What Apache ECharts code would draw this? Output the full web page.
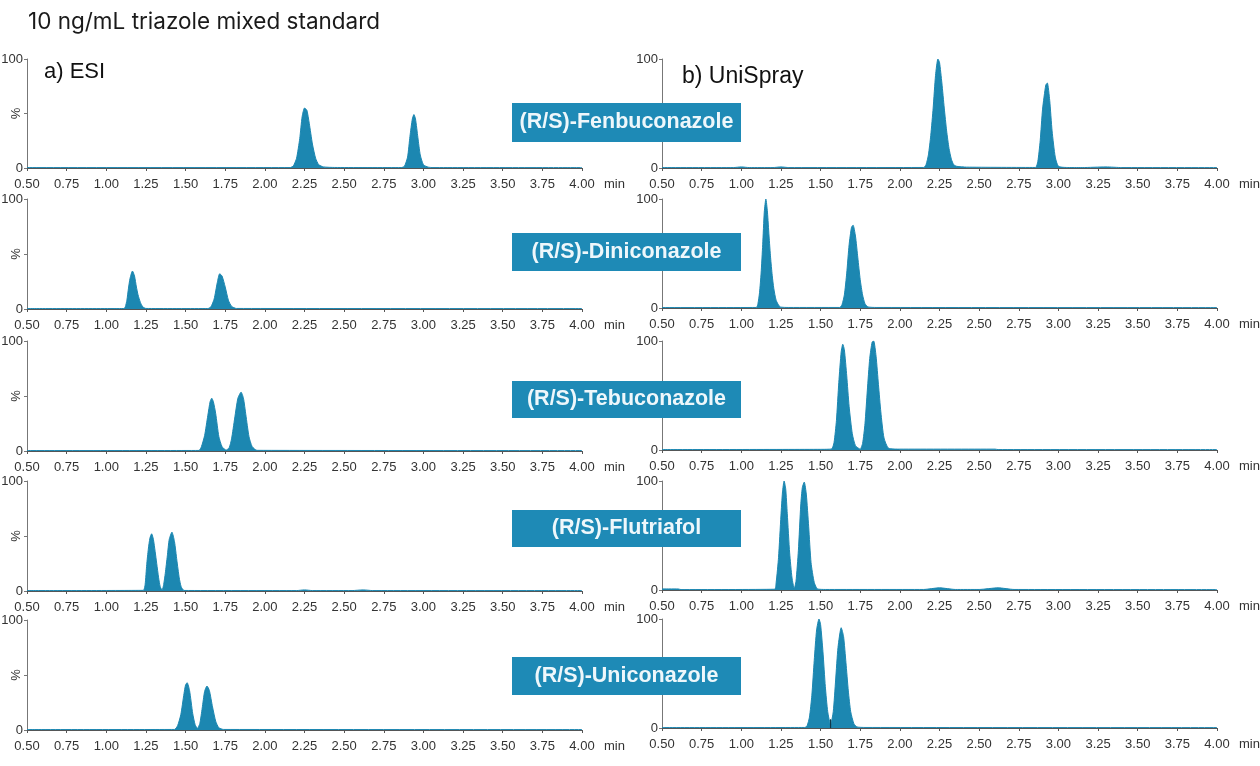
<!DOCTYPE html>
<html><head><meta charset="utf-8">
<script src="https://cdn.jsdelivr.net/npm/echarts@6/dist/echarts.min.js"></script>
<style>html,body{margin:0;padding:0;background:#fff}#c{width:1260px;height:766px}</style>
</head><body><div id="c"></div>
<script>
const xTicks=['0.50','0.75','1.00','1.25','1.50','1.75','2.00','2.25','2.50','2.75','3.00','3.25','3.50','3.75','4.00'];
const compounds=['(R/S)-Fenbuconazole','(R/S)-Diniconazole','(R/S)-Tebuconazole','(R/S)-Flutriafol','(R/S)-Uniconazole'];

const esiFenT=[0.5,2.16,2.18,2.20,2.22,2.235,2.25,2.265,2.28,2.30,2.32,2.34,2.37,2.44,2.86,2.88,2.90,2.915,2.93,2.94,2.95,2.965,2.98,3.00,3.03,3.06,4.0];
const esiFenV=[0.4,0.4,2,9,27,47,55,53,41,22,9,3,1,0.5,0.4,1.5,10,29,45,49,45,28,12,3,0.8,0.4,0.4];
const esiDinT=[0.5,1.11,1.12,1.13,1.14,1.15,1.165,1.178,1.19,1.20,1.215,1.23,1.25,1.64,1.66,1.68,1.70,1.715,1.73,1.75,1.77,1.79,1.82,4.0];
const esiDinV=[0.4,0.4,2,8,19,28,34.5,30,20,13,6,2,0.5,0.4,2,9,24,32,30,20,8,2.5,0.5,0.4];
const esiTebT=[0.5,1.585,1.60,1.62,1.64,1.655,1.665,1.675,1.69,1.71,1.73,1.755,1.775,1.79,1.81,1.83,1.85,1.865,1.88,1.90,1.92,1.95,4.0];
const esiTebV=[0.4,0.5,4,14,32,45,48,45,34,13,4,0.8,3,11,30,48,53.5,48,33,13,4,0.6,0.4];
const esiFluT=[0.5,1.233,1.245,1.255,1.265,1.275,1.286,1.297,1.308,1.318,1.33,1.34,1.352,1.362,1.372,1.385,1.397,1.414,1.43,1.445,1.46,1.472,1.49,2.2,2.25,2.3,2.55,2.62,2.68,4.0];
const esiFluV=[0.4,0.6,6,24,38,48,52,47,36,25,12,4,0.8,6,16,32,47,53.5,45,28,12,4,0.5,0.4,1,0.4,0.4,1,0.4,0.4];
const esiUniT=[0.5,1.43,1.45,1.47,1.49,1.50,1.51,1.525,1.545,1.56,1.575,1.59,1.605,1.62,1.635,1.65,1.67,1.69,1.71,1.74,4.0];
const esiUniV=[0.4,0.5,4,14,33,41,43,36,15,5,1.5,6,20,35,40,36,21,8,2,0.5,0.4];

const uniFenT=[0.5,0.95,1.0,1.05,1.2,1.25,1.3,2.15,2.165,2.18,2.195,2.21,2.225,2.24,2.25,2.265,2.28,2.295,2.31,2.325,2.34,2.36,2.42,2.855,2.87,2.885,2.90,2.92,2.93,2.945,2.96,2.98,3.0,3.05,3.15,3.3,3.4,4.0];
const uniFenV=[0.4,0.4,1,0.4,0.4,1,0.4,0.5,3,12,30,55,85,100,97,78,55,34,18,8,3,1.5,0.8,0.5,6,25,54,76,78,62,34,10,1.5,0.5,0.4,1,0.4,0.4];
const uniDinT=[0.5,1.095,1.105,1.115,1.125,1.135,1.145,1.155,1.165,1.175,1.185,1.195,1.205,1.22,1.245,1.30,1.62,1.635,1.65,1.665,1.68,1.695,1.705,1.72,1.735,1.75,1.765,1.78,1.80,1.85,4.0];
const uniDinV=[0.4,0.5,4,14,32,58,88,100,88,66,46,30,18,7,1,0.5,0.5,3,12,32,58,74,76,66,46,26,12,4,1,0.5,0.4];
const uniTebT=[0.5,1.50,1.57,1.585,1.60,1.615,1.63,1.64,1.65,1.665,1.68,1.70,1.72,1.75,1.765,1.78,1.795,1.81,1.825,1.835,1.85,1.865,1.88,1.90,1.93,2.0,2.6,2.62,4.0];
const uniTebV=[0.4,0.6,1,7,27,62,90,97,92,68,40,15,4,0.8,6,24,55,84,99,100,86,60,35,11,1.5,0.8,0.8,0.4,0.4];
const uniFluT=[0.5,0.6,0.62,1.21,1.22,1.235,1.25,1.26,1.27,1.28,1.29,1.305,1.32,1.334,1.345,1.36,1.375,1.385,1.397,1.41,1.425,1.44,1.46,1.48,1.53,2.15,2.25,2.35,2.5,2.62,2.72,4.0];
const uniFluV=[1,1,0.4,0.7,7,30,68,90,100,93,70,34,11,1.5,8,36,78,94,99,88,58,25,7,1,0.5,0.5,2,0.5,0.5,2,0.5,0.4];
const uniUniT=[0.5,1.40,1.415,1.43,1.445,1.46,1.475,1.49,1.50,1.515,1.53,1.545,1.563,1.58,1.595,1.61,1.63,1.645,1.66,1.675,1.69,1.71,1.73,1.78,4.0];
const uniUniV=[0.4,0.5,2,10,30,62,90,100,95,70,38,15,3,15,44,74,92,84,60,34,15,4,1,0.5,0.4];
const valleyT=[1.563,1.563];
const valleyV=[0,8];

const esiTimes=[esiFenT,esiDinT,esiTebT,esiFluT,esiUniT];
const esiValues=[esiFenV,esiDinV,esiTebV,esiFluV,esiUniV];
const uniTimes=[uniFenT,uniDinT,uniTebT,uniFluT,uniUniT];
const uniValues=[uniFenV,uniDinV,uniTebV,uniFluV,uniUniV];

const FILL='#1c87b1', BOX='#1e8ab6', FONT='"Liberation Sans",Arial,sans-serif', TXT='#333';
const leftTops=[59,199,341,481,620], rightTops=[59,199,341,481,619];
const boxes=[[103,39],[233,38],[381,37],[510,37],[657,38]];
const grids=[],xAxes=[],yAxes=[],series=[];
function panel(left,top,width,h,t,v){
  const i=grids.length;
  grids.push({left,top,width,height:h,outerBoundsMode:'none',containLabel:false});
  xAxes.push({type:'value',gridIndex:i,min:0.5,max:4,interval:0.25,name:'min',nameLocation:'end',nameGap:22,nameMoveOverlap:false,
    nameTextStyle:{fontFamily:FONT,fontSize:13,color:TXT,verticalAlign:'top',padding:[10,0,0,0]},
    axisLine:{onZero:false,lineStyle:{color:'#555',width:1.2}},axisTick:{length:3,lineStyle:{color:'#555'}},splitLine:{show:false},
    axisLabel:{showMinLabel:true,showMaxLabel:true,margin:10,fontFamily:FONT,fontSize:13,color:TXT,
      formatter:(x)=>xTicks[Math.round((x-0.5)/0.25)]}});
  yAxes.push({type:'value',gridIndex:i,min:0,max:100,interval:50,name:'%',nameLocation:'middle',nameRotate:90,nameGap:4,nameMoveOverlap:false,
    nameTextStyle:{fontFamily:FONT,fontSize:13,color:TXT},
    axisLine:{show:true,lineStyle:{color:'#777',width:1}},axisTick:{show:true,length:3,lineStyle:{color:'#777'}},splitLine:{show:false},
    axisLabel:{margin:4,fontFamily:FONT,fontSize:13,color:TXT,formatter:(y)=>y===50?'':String(y)}});
  series.push({type:'line',xAxisIndex:i,yAxisIndex:i,symbol:'none',silent:true,animation:false,smooth:0.2,
    data:t.map((x,k)=>[x,v[k]]),lineStyle:{color:FILL,width:1},areaStyle:{color:FILL,opacity:1}});
}
for(let k=0;k<5;k++) panel(27,leftTops[k],555,k===0?109:110,esiTimes[k],esiValues[k]);
for(let k=0;k<5;k++) panel(662,rightTops[k],555,109,uniTimes[k],uniValues[k]);
series.push({type:'line',xAxisIndex:9,yAxisIndex:9,symbol:'none',silent:true,animation:false,z:5,
  data:valleyT.map((x,k)=>[x,valleyV[k]]),lineStyle:{color:'#10384a',width:1.2}});

const graphic=[];
compounds.forEach((name,k)=>{
  graphic.push({type:'rect',z:50,shape:{x:512,y:boxes[k][0],width:229,height:boxes[k][1]},style:{fill:BOX}});
  graphic.push({type:'text',z:51,x:626.5,y:boxes[k][0]+boxes[k][1]/2,style:{text:name,fill:'#eef7fb',font:'bold 21.5px "Liberation Sans",sans-serif',textAlign:'center',textVerticalAlign:'middle'}});
});
graphic.push({type:'text',z:51,x:44,y:72,style:{text:'a) ESI',fill:'#111',font:'22px "Liberation Sans",sans-serif',textVerticalAlign:'middle'}});
graphic.push({type:'text',z:51,x:682,y:77,style:{text:'b) UniSpray',fill:'#111',font:'23px "Liberation Sans",sans-serif',textVerticalAlign:'middle'}});

const chart=echarts.init(document.getElementById('c'),null,{renderer:'canvas'});
chart.setOption({animation:false,backgroundColor:'#fff',
  title:{text:'10 ng/mL triazole mixed standard',left:23,top:6,textStyle:{fontFamily:'Inter,sans-serif',fontWeight:'normal',fontSize:22.5,color:'#1a1a1a'}},
  grid:grids,xAxis:xAxes,yAxis:yAxes,series,graphic});
</script></body></html>
